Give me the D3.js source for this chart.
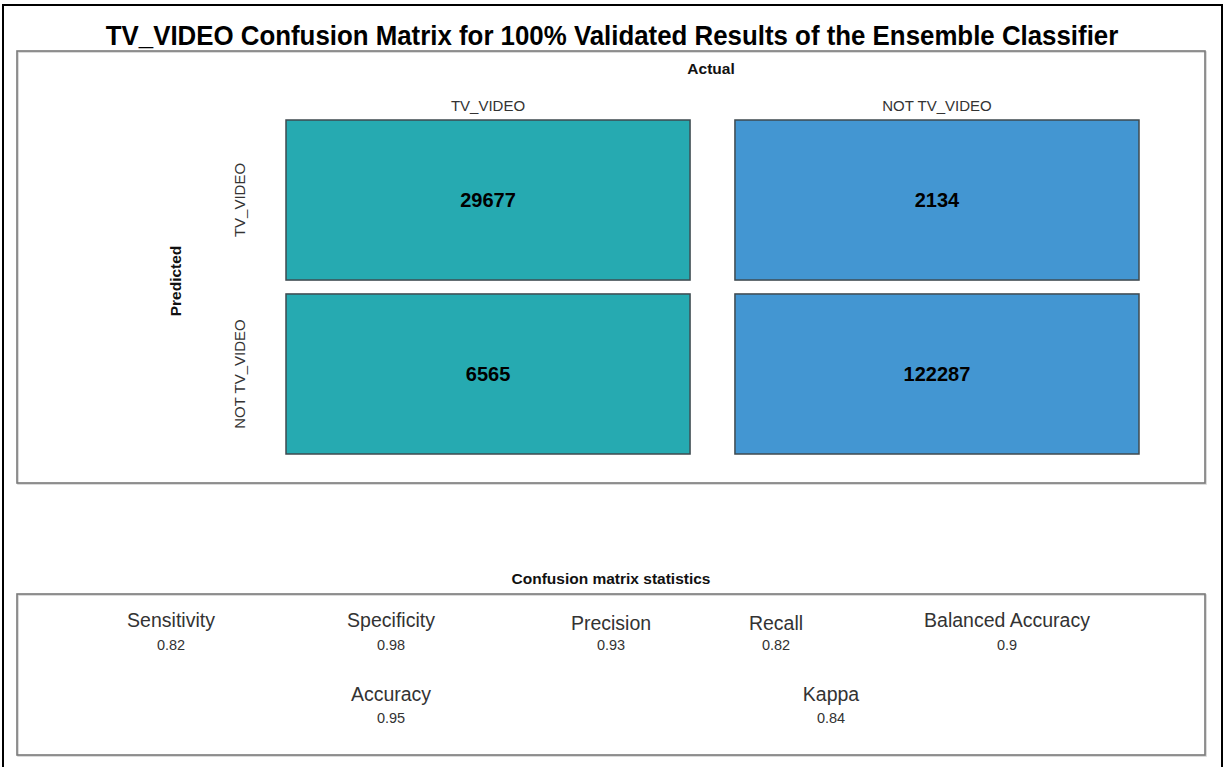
<!DOCTYPE html>
<html>
<head>
<meta charset="utf-8">
<script src="https://cdn.jsdelivr.net/npm/d3@7"></script>
<style>
  body { margin: 0; background: #fff; }
  text { font-family: "Liberation Sans", Arial, Helvetica, sans-serif; }
</style>
</head>
<body>
<svg id="chart" width="1225" height="767"></svg>
<script>
// data
const titleText = 'TV_VIDEO Confusion Matrix for 100% Validated Results of the Ensemble Classifier';
const actualLabels = ['TV_VIDEO', 'NOT TV_VIDEO'];
const predictedLabels = ['TV_VIDEO', 'NOT TV_VIDEO'];
// rows = predicted, columns = actual
const countsPredTV = [29677, 2134];
const countsPredNot = [6565, 122287];
const columnColors = ['#26aab1', '#4396d2'];

const statNamesTop = ['Sensitivity', 'Specificity', 'Precision', 'Recall', 'Balanced Accuracy'];
const statValuesTop = [0.82, 0.98, 0.93, 0.82, 0.9];
const statNamesBottom = ['Accuracy', 'Kappa'];
const statValuesBottom = [0.95, 0.84];

// layout (R style 0..100 user coords for the stats panel)
const statXTop = [10, 30, 50, 65, 86];
const statXBottom = [30, 70];

const svg = d3.select('#chart');

// outer frame (no bottom edge visible)
svg.append('path')
   .attr('d', 'M3,767 L3,5 L1222,5 L1222,767')
   .attr('fill', 'none')
   .attr('stroke', '#000')
   .attr('stroke-width', 2);

// title, slightly condensed like the original render
let title = svg.append('text')
   .attr('text-anchor', 'middle')
   .attr('font-weight', 'bold')
   .attr('font-size', 27)
   .attr('fill', '#000')
   .text(titleText);
let tw = title.node().getComputedTextLength();
title.attr('transform', 'translate(612,45) scale(' + (1013 / tw) + ',1)');

// panel boxes
function panel(x0, y0, x1, y1){
  svg.append('rect')
     .attr('x', x0 + 1).attr('y', y0 + 1)
     .attr('width', x1 - x0).attr('height', y1 - y0)
     .attr('fill', 'none')
     .attr('stroke', '#cfcfcf')
     .attr('stroke-width', 1.5);
  svg.append('rect')
     .attr('x', x0).attr('y', y0)
     .attr('width', x1 - x0).attr('height', y1 - y0)
     .attr('fill', 'none')
     .attr('stroke', '#7a7a7a')
     .attr('stroke-width', 1.6);
}
panel(17, 51, 1205, 483);
panel(17, 594, 1205, 755);

// matrix
const xBand = d3.scaleBand()
   .domain(actualLabels)
   .range([286, 1139])
   .paddingInner(0.1);
const yBand = d3.scaleBand()
   .domain(predictedLabels)
   .range([120, 454])
   .paddingInner(0.08);

const cells = [];
predictedLabels.forEach(function(p, i){
  const row = i === 0 ? countsPredTV : countsPredNot;
  actualLabels.forEach(function(a, j){
    cells.push({pred: p, act: a, value: row[j], color: columnColors[j]});
  });
});

svg.selectAll('.cell')
   .data(cells)
   .enter()
   .append('rect')
   .attr('class', 'cell')
   .attr('x', function(d){ return xBand(d.act); })
   .attr('y', function(d){ return yBand(d.pred); })
   .attr('width', xBand.bandwidth())
   .attr('height', yBand.bandwidth())
   .attr('fill', function(d){ return d.color; })
   .attr('stroke', '#3f4a4f')
   .attr('stroke-width', 1.5);

svg.selectAll('.cellText')
   .data(cells)
   .enter()
   .append('text')
   .attr('class', 'cellText')
   .attr('x', function(d){ return xBand(d.act) + xBand.bandwidth()/2; })
   .attr('y', function(d){ return yBand(d.pred) + yBand.bandwidth()/2 + 7; })
   .attr('text-anchor', 'middle')
   .attr('font-weight', 'bold')
   .attr('font-size', 20)
   .attr('fill', '#000')
   .text(function(d){ return d.value; });

// axis labels
svg.append('text')
   .attr('x', 711).attr('y', 74)
   .attr('text-anchor', 'middle')
   .attr('font-weight', 'bold')
   .attr('font-size', 15.5)
   .attr('fill', '#111')
   .text('Actual');

svg.selectAll('.colLab')
   .data(actualLabels)
   .enter()
   .append('text')
   .attr('class', 'colLab')
   .attr('x', function(d){ return xBand(d) + xBand.bandwidth()/2; })
   .attr('y', 111)
   .attr('text-anchor', 'middle')
   .attr('font-size', 15)
   .attr('fill', '#333')
   .text(function(d){ return d; });

svg.append('text')
   .attr('transform', 'translate(181,281) rotate(-90)')
   .attr('text-anchor', 'middle')
   .attr('font-weight', 'bold')
   .attr('font-size', 15.5)
   .attr('fill', '#111')
   .text('Predicted');

svg.selectAll('.rowLab')
   .data(predictedLabels)
   .enter()
   .append('text')
   .attr('class', 'rowLab')
   .attr('transform', function(d){
     return 'translate(245,' + (yBand(d) + yBand.bandwidth()/2) + ') rotate(-90)';
   })
   .attr('text-anchor', 'middle')
   .attr('font-size', 15)
   .attr('fill', '#333')
   .text(function(d){ return d; });

// statistics panel
svg.append('text')
   .attr('x', 611).attr('y', 584)
   .attr('text-anchor', 'middle')
   .attr('font-weight', 'bold')
   .attr('font-size', 15.5)
   .attr('fill', '#111')
   .text('Confusion matrix statistics');

const sx = d3.scaleLinear().domain([-4, 104]).range([17, 1205]);

// R centres strings on their ink box, so words without descenders sit a bit lower
function descOffset(s){ return /[gjpqy]/.test(s) ? 0 : 3; }

function statRow(names, values, xs, yLab, yVal){
  const g = svg.append('g');
  g.selectAll('.statName')
   .data(names)
   .enter()
   .append('text')
   .attr('x', function(d, i){ return sx(xs[i]); })
   .attr('y', function(d){ return yLab + descOffset(d); })
   .attr('text-anchor', 'middle')
   .attr('font-size', 19.5)
   .attr('fill', '#333')
   .text(function(d){ return d; });
  g.selectAll('.statVal')
   .data(values)
   .enter()
   .append('text')
   .attr('x', function(d, i){ return sx(xs[i]); })
   .attr('y', yVal)
   .attr('text-anchor', 'middle')
   .attr('font-size', 14.5)
   .attr('fill', '#333')
   .text(function(d){ return d; });
}
statRow(statNamesTop, statValuesTop, statXTop, 627, 650);
statRow(statNamesBottom, statValuesBottom, statXBottom, 701, 723);
</script>
</body>
</html>
